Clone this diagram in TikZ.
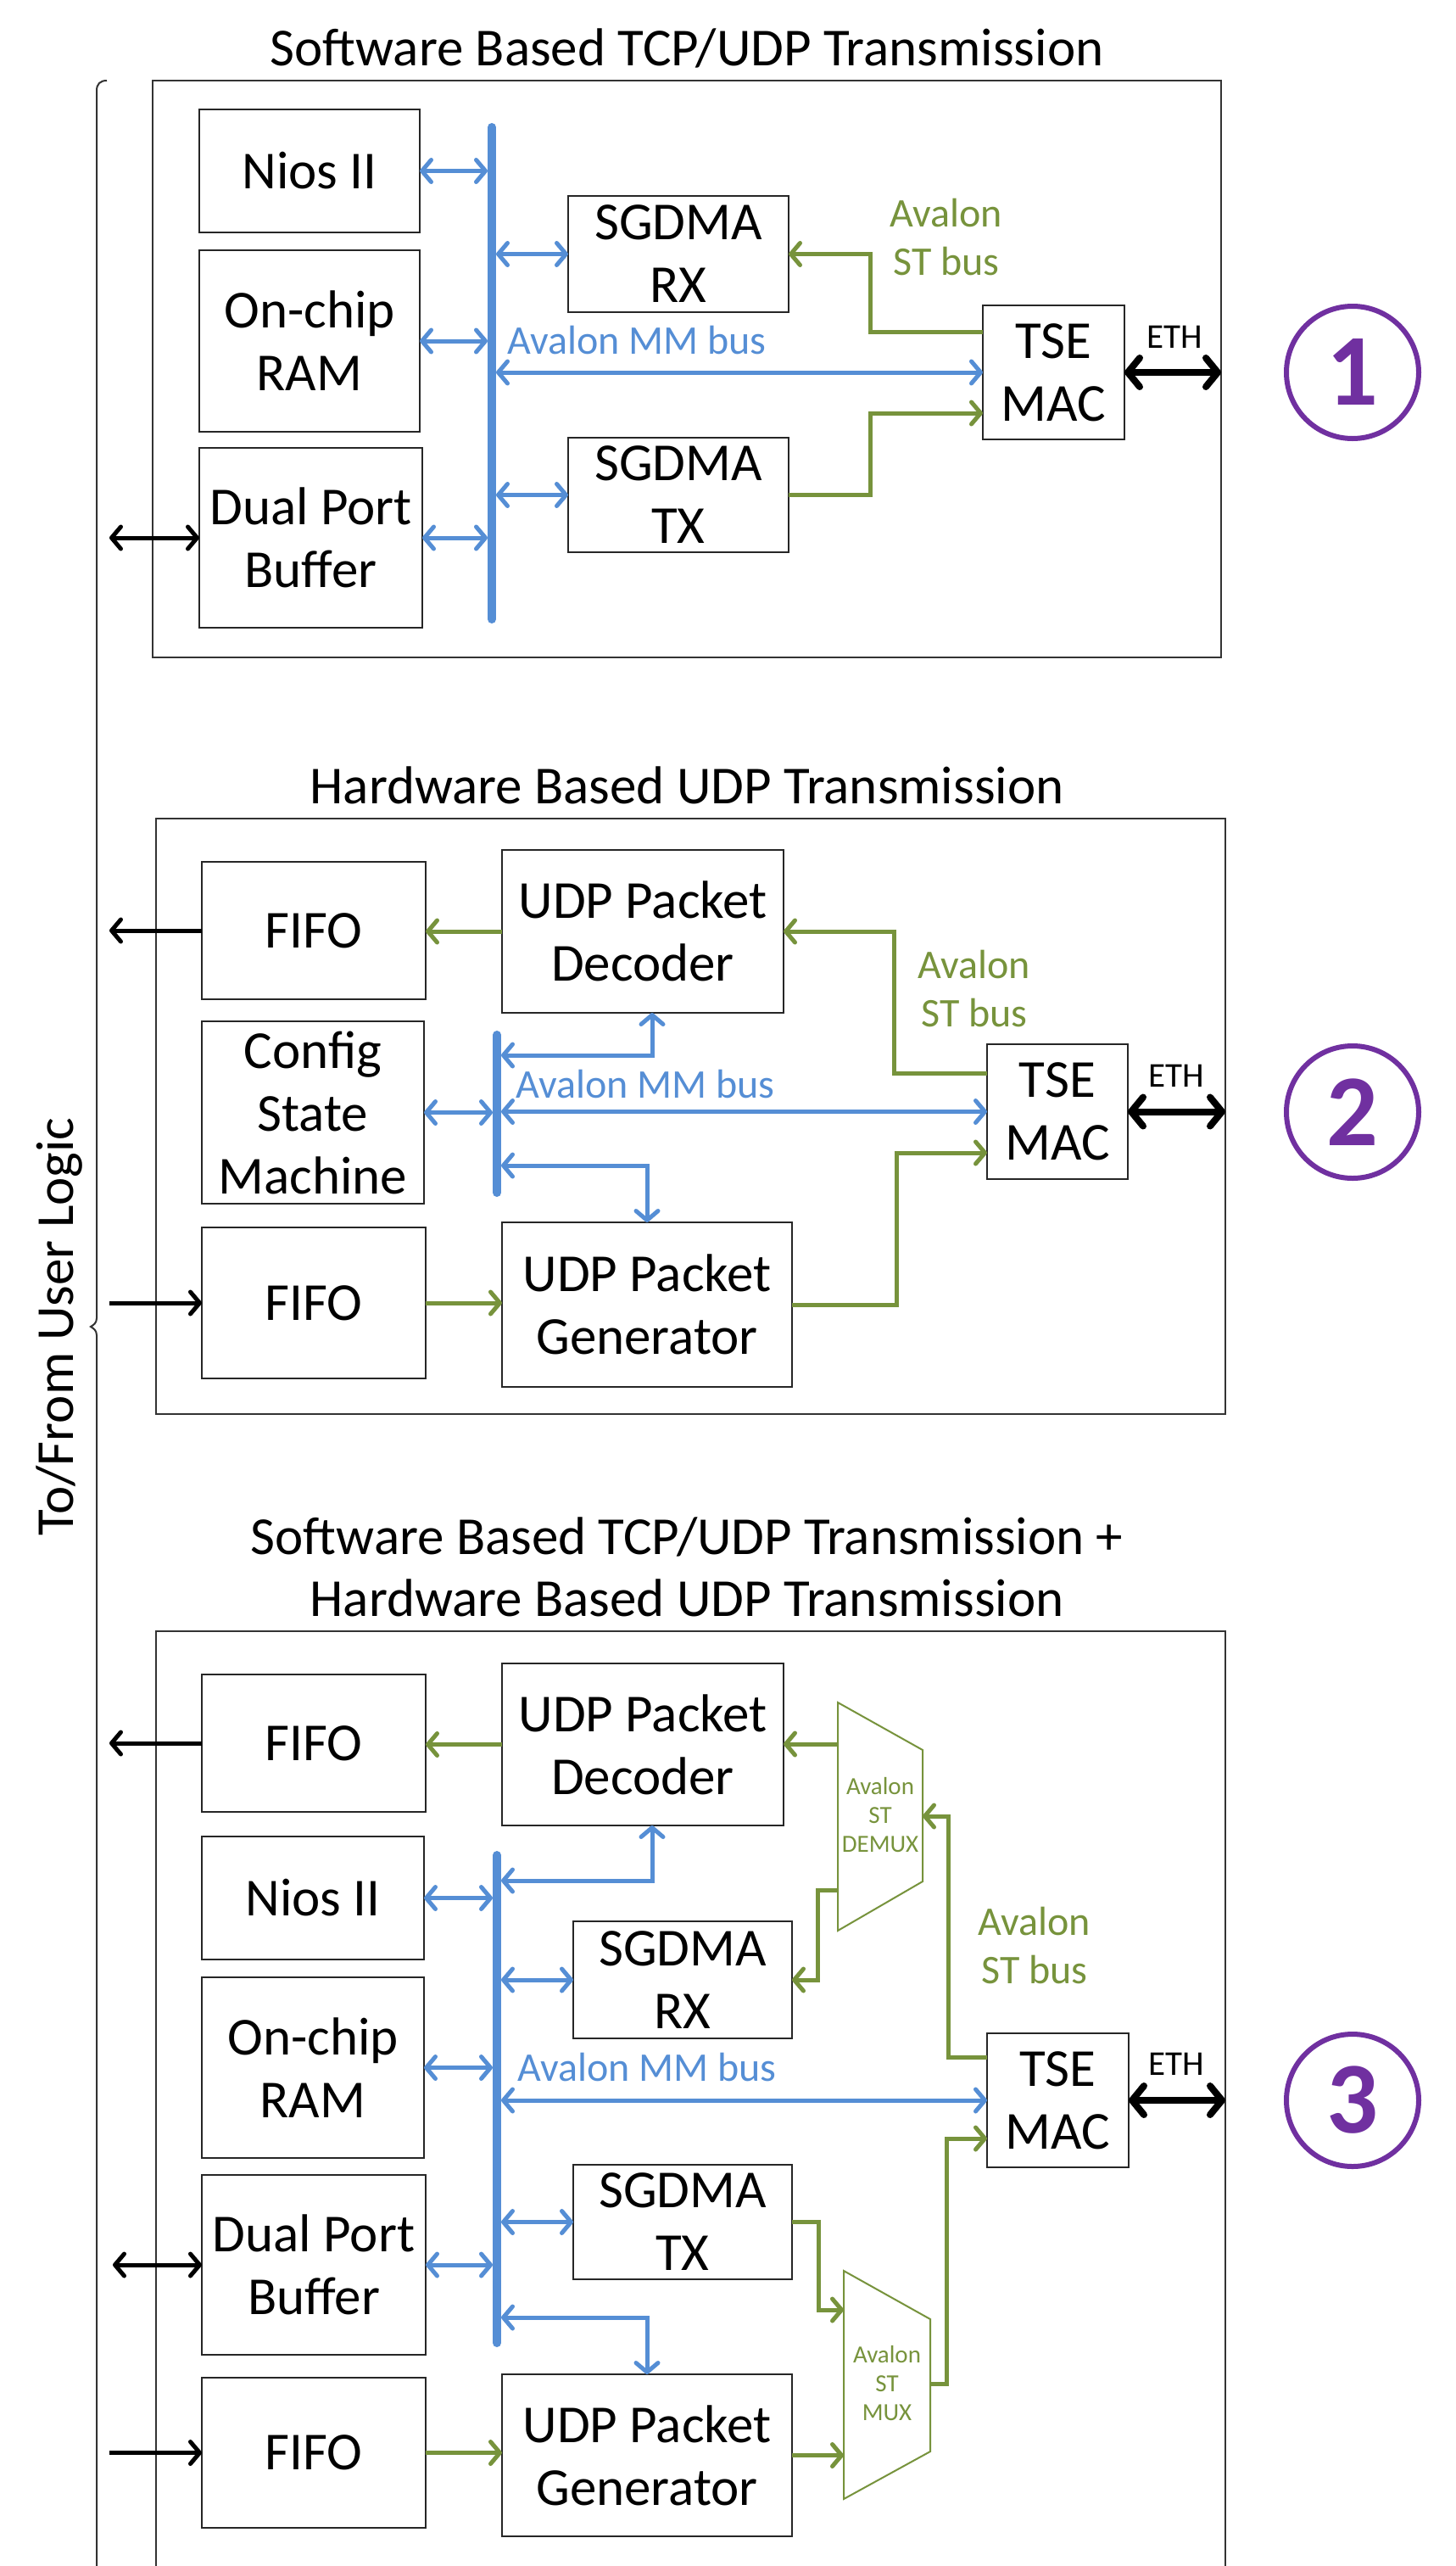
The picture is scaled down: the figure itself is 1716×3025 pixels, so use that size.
\documentclass[tikz,border=0pt]{standalone}
\usepackage{fontspec}
\setmainfont{Carlito}
\usetikzlibrary{arrows.meta,calc}
\definecolor{mmblue}{RGB}{85,142,213}
\definecolor{stgreen}{RGB}{119,147,60}
\definecolor{numpurple}{RGB}{112,48,160}
\newcommand{\boxfont}{\fontsize{63}{74}\selectfont}
\newcommand{\titlefont}{\fontsize{63}{73}\selectfont}
\newcommand{\lblfont}{\fontsize{48}{57}\selectfont}
\newcommand{\ethfont}{\fontsize{41}{48}\selectfont}
\newcommand{\muxfont}{\fontsize{29}{34}\selectfont}
\newcommand{\numfont}{\fontsize{120}{120}\selectfont\bfseries}
\begin{document}
\begin{tikzpicture}[x=1pt,y=-1pt,
 box/.style={draw=black!85,line width=2pt,fill=white,inner sep=0pt,outer sep=0pt,align=center,font=\boxfont},
 frame/.style={draw=black!80,line width=2pt,inner sep=0pt,outer sep=0pt},
 title/.style={font=\titlefont,align=center,inner sep=0pt},
 mmlbl/.style={font=\lblfont,text=mmblue,inner sep=0pt},
 stlbl/.style={font=\lblfont,text=stgreen,align=center,inner sep=0pt},
 ethlbl/.style={font=\ethfont,inner sep=0pt},
 bus/.style={draw=mmblue,line width=10pt,line cap=round},
 mm/.style={draw=mmblue,line width=5pt,{Straight Barb[round,length=11pt,width=26pt]}-{Straight Barb[round,length=11pt,width=26pt]}},
 st/.style={draw=stgreen,line width=5pt,-{Straight Barb[round,length=11pt,width=26pt]}},
 blk/.style={draw=black,line width=5pt,-{Straight Barb[round,length=11pt,width=26pt]}},
 blkboth/.style={draw=black,line width=5pt,{Straight Barb[round,length=11pt,width=26pt]}-{Straight Barb[round,length=11pt,width=26pt]}},
 eth/.style={draw=black,line width=8pt,{Straight Barb[round,length=14pt,width=34pt]}-{Straight Barb[round,length=14pt,width=34pt]}},
 num/.style={circle,draw=numpurple,line width=6pt,minimum size=156pt,inner sep=0pt,text=numpurple,font=\numfont},
 muxshape/.style={draw=stgreen,line width=2pt},
 muxlbl/.style={font=\muxfont,text=stgreen,align=center,inner sep=0pt}
]
\useasboundingbox (0,0) rectangle (1716,3025);
\fill[white] (0,0) rectangle (1716,3025);

% user logic reference
\coordinate (ul) at (129,0);
\coordinate (ul2) at (133,0);
\draw[line width=2pt,black!80] (126,95) .. controls (118,95) and (114,99) .. (114,107) -- (114,1554) .. controls (114,1560) and (110,1562) .. (107,1564) .. controls (110,1566) and (114,1568) .. (114,1574) -- (114,3030);
\node[font=\titlefont,rotate=90,inner sep=0pt] (ulog) at (70,1564) {To/From User Logic};

% ================= Panel 1
\node[title] (t1) at (810,57) {Software Based TCP/UDP Transmission};
\node[frame,minimum width=1260pt,minimum height=680pt] (p1) at (810,435) {};
\node[box,minimum width=260pt,minimum height=145pt] (nios1) at (365,201.5) {Nios II};
\node[box,minimum width=260pt,minimum height=214pt] (ram1) at (365,402) {On-chip\\RAM};
\node[box,minimum width=263pt,minimum height=212pt] (dpb1) at (366.5,634) {Dual Port\\Buffer};
\node[box,minimum width=260pt,minimum height=137pt] (rx1) at (800,299.5) {SGDMA\\RX};
\node[box,minimum width=260pt,minimum height=135pt] (tx1) at (800,583.5) {SGDMA\\TX};
\node[box,minimum width=167pt,minimum height=158pt] (mac1) at (1242.5,439) {TSE\\MAC};
\coordinate (bus1t) at (580,150);
\coordinate (bus1b) at (580,730);
\draw[bus] (bus1t) -- (bus1b);
\coordinate (b1l) at (575,0);
\coordinate (b1r) at (585,0);
\draw[mm] (nios1.east) -- (nios1.east -| b1l);
\draw[mm] (ram1.east) -- (ram1.east -| b1l);
\draw[mm] (dpb1.east) -- (dpb1.east -| b1l);
\draw[mm] (rx1.west -| b1r) -- (rx1.west);
\draw[mm] (tx1.west -| b1r) -- (tx1.west);
\draw[mm] (mac1.west -| b1r) -- (mac1.west);
\draw[st] ([yshift=48pt]mac1.west) -- ++(-133,0) |- (rx1.east);
\draw[st] (tx1.east) -- ++(96,0) |- ([yshift=-48pt]mac1.west);
\draw[eth] (mac1.east) -- (mac1.east -| p1.east);
\draw[blkboth] (dpb1.west -| ul) -- (dpb1.west);
\node[ethlbl] (eth1) at (1385,397) {ETH};
\node[mmlbl,anchor=west] (mm1) at (598,401) {Avalon MM bus};
\node[stlbl] (st1) at (1116,280) {Avalon\\ST bus};
\node[num] (n1) at (1595,439) {1};

% ================= Panel 2
\node[title] (t2) at (810,926) {Hardware Based UDP Transmission};
\node[frame,minimum width=1261pt,minimum height=702pt] (p2) at (814.5,1316) {};
\node[box,minimum width=264pt,minimum height=162pt] (fifo2a) at (370,1097) {FIFO};
\node[box,minimum width=332pt,minimum height=192pt] (dec2) at (758,1098) {UDP Packet\\Decoder};
\node[box,minimum width=262pt,minimum height=215pt] (cfg2) at (369,1311.5) {Config\\State\\Machine};
\node[box,minimum width=264pt,minimum height=178pt] (fifo2b) at (370,1536) {FIFO};
\node[box,minimum width=342pt,minimum height=194pt] (gen2) at (763,1538) {UDP Packet\\Generator};
\node[box,minimum width=166pt,minimum height=159pt] (mac2) at (1247,1310.5) {TSE\\MAC};
\coordinate (bus2t) at (586,1220);
\coordinate (bus2b) at (586,1406);
\draw[bus] (bus2t) -- (bus2b);
\coordinate (b2l) at (581,0);
\coordinate (b2r) at (591,0);
\coordinate (k2a) at (591,1244);
\coordinate (k2b) at (591,1374);
\draw[mm] (k2a) -| ([xshift=11pt]dec2.south);
\draw[mm] (k2b) -| (gen2.north);
\draw[mm] (cfg2.east) -- (cfg2.east -| b2l);
\draw[mm] (mac2.west -| b2r) -- (mac2.west);
\draw[st] (dec2.west) -- (dec2.west -| fifo2a.east);
\draw[blk] (fifo2a.west) -- (fifo2a.west -| ul);
\draw[st] ([yshift=45.5pt]mac2.west) -- ++(-110,0) |- (dec2.east);
\draw[st] (fifo2b.east) -- (fifo2b.east -| gen2.west);
\draw[blk] (fifo2b.west -| ul) -- (fifo2b.west);
\draw[st] (gen2.east) -- ++(123,0) |- ([yshift=-48.5pt]mac2.west);
\draw[eth] (mac2.east) -- (mac2.east -| p2.east);
\node[ethlbl] (eth2) at (1387,1268) {ETH};
\node[mmlbl,anchor=west] (mm2) at (608,1278) {Avalon MM bus};
\node[stlbl] (st2) at (1149,1165) {Avalon\\ST bus};
\node[num] (n2) at (1595,1311) {2};

% ================= Panel 3
\node[title] (t3) at (810,1847) {Software Based TCP/UDP Transmission +\\Hardware Based UDP Transmission};
\draw[frame] (184,3030) -- (184,1923) -- (1445,1923) -- (1445,3030);
\coordinate (p3e) at (1445,0);
\node[box,minimum width=264pt,minimum height=162pt] (fifo3a) at (370,2055) {FIFO};
\node[box,minimum width=332pt,minimum height=191pt] (dec3) at (758,2056.5) {UDP Packet\\Decoder};
\node[box,minimum width=262pt,minimum height=145pt] (nios3) at (369,2237.5) {Nios II};
\node[box,minimum width=262pt,minimum height=213pt] (ram3) at (369,2437.5) {On-chip\\RAM};
\node[box,minimum width=264pt,minimum height=212pt] (dpb3) at (370,2670) {Dual Port\\Buffer};
\node[box,minimum width=264pt,minimum height=177pt] (fifo3b) at (370,2891.5) {FIFO};
\node[box,minimum width=258pt,minimum height=138pt] (rx3) at (805,2334) {SGDMA\\RX};
\node[box,minimum width=258pt,minimum height=135pt] (tx3) at (805,2619.5) {SGDMA\\TX};
\node[box,minimum width=342pt,minimum height=191pt] (gen3) at (763,2894.5) {UDP Packet\\Generator};
\node[box,minimum width=167pt,minimum height=158pt] (mac3) at (1247.5,2476) {TSE\\MAC};
% demux
\coordinate (dxa) at (988,2007);
\coordinate (dxb) at (1088,2063);
\coordinate (dxc) at (1088,2218);
\coordinate (dxd) at (988,2276);
\draw[muxshape] (dxa) -- (dxb) -- (dxc) -- (dxd) -- cycle;
\node[muxlbl] (dxt) at (1038,2140) {Avalon\\ST\\DEMUX};
\coordinate (dxo1) at (988,2056);
\coordinate (dxo2) at (988,2228);
\coordinate (dxi) at (1088,2141);
% mux
\coordinate (mxa) at (995,2677);
\coordinate (mxb) at (1097,2734);
\coordinate (mxc) at (1097,2890);
\coordinate (mxd) at (995,2946);
\draw[muxshape] (mxa) -- (mxb) -- (mxc) -- (mxd) -- cycle;
\node[muxlbl] (mxt) at (1046,2810) {Avalon\\ST\\MUX};
\coordinate (mxi1) at (995,2723);
\coordinate (mxi2) at (995,2895);
\coordinate (mxo) at (1097,2810);
% bus
\coordinate (bus3t) at (586,2187);
\coordinate (bus3b) at (586,2762);
\draw[bus] (bus3t) -- (bus3b);
\coordinate (b3l) at (581,0);
\coordinate (b3r) at (591,0);
\coordinate (k3a) at (591,2217);
\coordinate (k3b) at (591,2732);
\draw[mm] (k3a) -| ([xshift=11pt]dec3.south);
\draw[mm] (k3b) -| (gen3.north);
\draw[mm] (nios3.east) -- (nios3.east -| b3l);
\draw[mm] (ram3.east) -- (ram3.east -| b3l);
\draw[mm] (dpb3.east) -- (dpb3.east -| b3l);
\draw[mm] (rx3.west -| b3r) -- (rx3.west);
\draw[mm] (tx3.west -| b3r) -- (tx3.west);
\draw[mm] (mac3.west -| b3r) -- (mac3.west);
% streaming
\draw[st] (dxo1) -- (dxo1 -| dec3.east);
\draw[st] (dxo2) -- ++(-24,0) |- (rx3.east);
\draw[st] ([yshift=51pt]mac3.west) -- ++(-46,0) |- (dxi);
\draw[st] (tx3.east) -- ++(31,0) |- (mxi1);
\draw[st] (gen3.east) -- (gen3.east -| mxi2);
\draw[st] (mxo) -- ++(19,0) |- ([yshift=-45pt]mac3.west);
\draw[st] (dec3.west) -- (dec3.west -| fifo3a.east);
\draw[st] (fifo3b.east) -- (fifo3b.east -| gen3.west);
\draw[blk] (fifo3a.west) -- (fifo3a.west -| ul);
\draw[blkboth] (dpb3.west -| ul2) -- (dpb3.west);
\draw[blk] (fifo3b.west -| ul) -- (fifo3b.west);
\draw[eth] (mac3.east) -- (mac3.east -| p3e);
\node[ethlbl] (eth3) at (1387,2433) {ETH};
\node[mmlbl,anchor=west] (mm3) at (610,2437) {Avalon MM bus};
\node[stlbl] (st3) at (1220,2293) {Avalon\\ST bus};
\node[num] (n3) at (1595,2476) {3};
\end{tikzpicture}
\end{document}
